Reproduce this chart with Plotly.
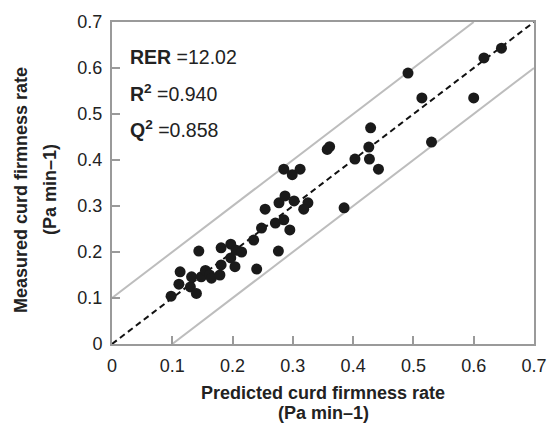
import plotly.graph_objects as go

predicted = [0.098, 0.111, 0.113, 0.130, 0.140, 0.132, 0.148, 0.155, 0.162, 0.165,
             0.179, 0.144, 0.181, 0.204, 0.197, 0.181, 0.197, 0.206, 0.215, 0.235,
             0.240, 0.248, 0.254, 0.271, 0.285, 0.295, 0.276, 0.277, 0.287, 0.302,
             0.325, 0.318, 0.285, 0.299, 0.312, 0.357, 0.361, 0.385, 0.403, 0.427,
             0.426, 0.429, 0.442, 0.491, 0.514, 0.530, 0.600, 0.617, 0.646]
measured = [0.104, 0.130, 0.157, 0.124, 0.110, 0.146, 0.146, 0.160, 0.150, 0.143,
            0.150, 0.202, 0.172, 0.168, 0.187, 0.209, 0.217, 0.204, 0.200, 0.226,
            0.163, 0.252, 0.293, 0.263, 0.270, 0.248, 0.202, 0.307, 0.322, 0.311,
            0.307, 0.293, 0.380, 0.368, 0.380, 0.423, 0.429, 0.296, 0.402, 0.402,
            0.428, 0.470, 0.380, 0.589, 0.535, 0.439, 0.535, 0.622, 0.643]

diag_x = [0, 0.7]
diag_y = [0, 0.7]
upper_x = [0, 0.6]
upper_y = [0.1, 0.7]
lower_x = [0.1, 0.7]
lower_y = [0, 0.6]

tick_vals = [0, 0.1, 0.2, 0.3, 0.4, 0.5, 0.6, 0.7]
tick_text = ["0", "0.1", "0.2", "0.3", "0.4", "0.5", "0.6", "0.7"]

x_title = "<b>Predicted curd firmness rate</b>"
x_unit = "<b>(Pa min\u20131)</b>"
y_title = "<b>Measured curd firmness rate</b>"
y_unit = "<b>(Pa min\u20131)</b>"
stats_text = ["<b>RER</b> =12.02", "<b>R<sup>2</sup></b> =0.940", "<b>Q<sup>2</sup></b> =0.858"]
stats_y = [0.624, 0.546, 0.468]

fig = go.Figure()
fig.add_trace(go.Scatter(x=upper_x, y=upper_y, mode="lines",
                         line=dict(color="#bdbdbd", width=2), hoverinfo="skip"))
fig.add_trace(go.Scatter(x=lower_x, y=lower_y, mode="lines",
                         line=dict(color="#bdbdbd", width=2), hoverinfo="skip"))
fig.add_trace(go.Scatter(x=diag_x, y=diag_y, mode="lines",
                         line=dict(color="#111111", width=2, dash="6px,4px"), hoverinfo="skip"))
fig.add_trace(go.Scatter(x=predicted, y=measured, mode="markers",
                         marker=dict(color="#1a1a1a", size=11)))

font_family = "Liberation Sans, Arial, sans-serif"
axis_common = dict(
    range=[0, 0.7], tickvals=tick_vals, ticktext=tick_text, automargin=False,
    showgrid=False, zeroline=False, showline=True, linecolor="#9a9a9a", linewidth=2,
    mirror=True, ticks="inside", ticklen=8, tickcolor="#9a9a9a", tickwidth=2,
    tickfont=dict(size=18, color="#222222", family=font_family),
)
fig.update_xaxes(**axis_common, ticklabelstandoff=4)
fig.update_yaxes(**axis_common, ticklabelstandoff=4)

# figure sits 8px in from the page's top-left (page body margin); keep it inside the window
W, H = 539, 415
L, R, T, B = 104, 13, 14, 79
ph = H - T - B
pw = W - L - R


def px(xp):
    return (xp - 8 - L) / pw


def py(yp):
    return (H - B - (yp - 8)) / ph


title_font = dict(size=18, color="#222222", family=font_family)
fig.add_annotation(x=px(323), y=py(393), xref="paper", yref="paper", text=x_title,
                   showarrow=False, font=title_font, xanchor="center", yanchor="middle")
fig.add_annotation(x=px(323), y=py(413), xref="paper", yref="paper", text=x_unit,
                   showarrow=False, font=title_font, xanchor="center", yanchor="middle")
fig.add_annotation(x=px(21), y=py(190), xref="paper", yref="paper",
                   text=y_title, textangle=-90, showarrow=False, font=title_font,
                   xanchor="center", yanchor="middle")
fig.add_annotation(x=px(50), y=py(190), xref="paper", yref="paper",
                   text=y_unit, textangle=-90, showarrow=False, font=title_font,
                   xanchor="center", yanchor="middle")

ann_font = dict(size=19.5, color="#222222", family=font_family)
for txt, yy in zip(stats_text, stats_y):
    fig.add_annotation(x=0.026, y=yy, xref="x", yref="y", xanchor="left", yanchor="middle",
                       text=txt, showarrow=False, font=ann_font)

fig.update_layout(
    width=W, height=H, showlegend=False,
    margin=dict(l=L, r=R, t=T, b=B),
    plot_bgcolor="white", paper_bgcolor="white",
    font=dict(family=font_family),
)
fig.write_html("out.html")
